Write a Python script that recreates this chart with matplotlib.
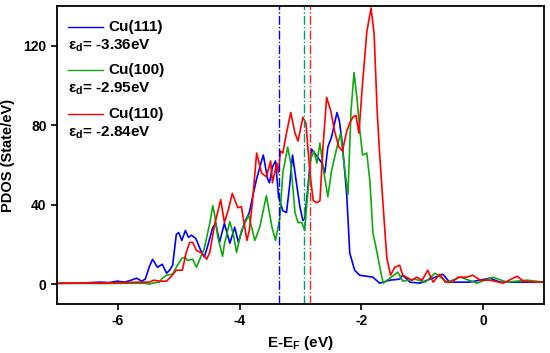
import matplotlib
matplotlib.use('Agg')
import matplotlib.pyplot as plt

plt.rcParams['font.family'] = ['Liberation Sans', 'DejaVu Sans']
plt.rcParams['font.weight'] = 'bold'
plt.rcParams['axes.unicode_minus'] = False
plt.rcParams['mathtext.fontset'] = 'custom'
plt.rcParams['mathtext.rm'] = 'Liberation Sans:bold'
plt.rcParams['mathtext.it'] = 'Liberation Sans:bold'
plt.rcParams['mathtext.bf'] = 'Liberation Sans:bold'

# PDOS of Cu d-band
e_111 = [-7.0, -6.63, -6.30, -6.14, -6.01, -5.89, -5.78, -5.69, -5.61, -5.55, -5.48, -5.43,
         -5.35, -5.27, -5.20, -5.15, -5.10, -5.04, -5.00, -4.95, -4.89, -4.84, -4.79, -4.72,
         -4.62, -4.58, -4.53, -4.44, -4.39, -4.33, -4.25, -4.16, -4.08, -4.02, -3.92, -3.84,
         -3.80, -3.72, -3.64, -3.61, -3.54, -3.51, -3.46, -3.41, -3.36, -3.29, -3.23, -3.18,
         -3.13, -3.08, -3.01, -2.96, -2.93, -2.88, -2.82, -2.77, -2.72, -2.65, -2.60, -2.55,
         -2.49, -2.40, -2.36, -2.31, -2.24, -2.19, -2.11, -2.03, -1.81, -1.70, -1.53, -1.37,
         -1.32, -1.20, -1.04, -0.66, -0.55, -0.22, 0.11, 0.28, 1.0]
d_111 = [0.3, 0.5, 1.0, 0.8, 1.5, 1.0, 2.0, 3.0, 1.5, 2.5, 9, 12.5,
         8.5, 10, 5.5, 7, 9.5, 25, 26, 22, 27, 23.6, 24.6, 23,
         15.6, 13.6, 18.6, 28.6, 30.6, 21, 30.6, 20.6, 28.6, 21, 31, 36,
         42, 53, 62, 65, 53, 51, 59, 62, 44, 37, 36, 49,
         65, 54, 39, 32, 33, 48, 68, 66, 64, 61, 56, 69,
         74, 86.4, 82, 70, 45, 15.6, 7, 4.5, 3.5, 0.5, 2, 2.5,
         4.5, 1, 0.5, 5, 1, 1, 3, 1, 1]

e_100 = [-7.0, -6.30, -5.58, -5.48, -5.43, -5.32, -5.27, -5.20, -5.10, -5.04, -4.95, -4.90,
         -4.86, -4.77, -4.71, -4.66, -4.58, -4.49, -4.44, -4.41, -4.36, -4.28, -4.25, -4.16,
         -4.10, -4.05, -3.97, -3.85, -3.75, -3.67, -3.56, -3.47, -3.41, -3.34, -3.29, -3.21,
         -3.16, -3.09, -3.04, -2.98, -2.93, -2.90, -2.83, -2.78, -2.73, -2.68, -2.62, -2.55,
         -2.49, -2.40, -2.34, -2.29, -2.22, -2.17, -2.12, -2.07, -2.03, -1.98, -1.91, -1.86,
         -1.81, -1.74, -1.68, -1.64, -1.53, -1.40, -1.32, -1.12, -0.95, -0.79, -0.59, -0.37,
         -0.10, 0.16, 0.39, 0.72, 1.0]
d_100 = [0.5, 0.3, 0.5, 0, 0.5, 1, 3, 4.5, 5, 8.5, 13, 13.6,
         12, 12.5, 8.5, 12, 18, 30.6, 39.5, 35, 24, 14, 20, 31.5,
         24.6, 16, 27, 34.7, 22, 28.5, 44.5, 29, 22, 33, 56, 69,
         61, 36, 31, 31, 27, 39, 63, 67, 61, 71, 57, 44,
         57, 69, 76, 62, 45, 87, 106.5, 93, 79, 65, 66, 52,
         26, 15.6, 6, 0.5, 3, 6, 1.5, 2.5, 1, 5.5, 1, 3.5,
         0.5, 3.5, 1, 2, 1]

e_110 = [-7.0, -6.30, -5.64, -5.48, -5.41, -5.32, -5.20, -5.12, -5.04, -4.94, -4.88, -4.82,
         -4.77, -4.71, -4.62, -4.54, -4.49, -4.41, -4.31, -4.25, -4.18, -4.12, -4.03, -3.97,
         -3.88, -3.84, -3.79, -3.72, -3.64, -3.56, -3.49, -3.46, -3.39, -3.36, -3.33, -3.29,
         -3.23, -3.16, -3.09, -3.04, -2.96, -2.91, -2.88, -2.83, -2.79, -2.73, -2.68, -2.63,
         -2.57, -2.50, -2.44, -2.37, -2.31, -2.24, -2.19, -2.14, -2.09, -2.04, -1.98, -1.91,
         -1.84, -1.79, -1.74, -1.70, -1.63, -1.58, -1.52, -1.45, -1.37, -1.32, -1.17, -1.09,
         -1.00, -0.91, -0.82, -0.71, -0.62, -0.51, -0.41, -0.27, -0.17, -0.05, 0.11, 0.33,
         0.56, 0.66, 0.89, 1.0]
d_110 = [0.5, 0.5, 1, 1, 2, 1.5, 1.5, 4, 7, 7, 15.6, 21,
         21, 17, 15.6, 12.5, 16, 30, 42.5, 31, 38, 45.7, 38.5, 39,
         22, 27, 41, 66, 56, 54, 62, 51, 61, 56, 67, 66,
         76, 86.4, 76, 72, 84, 81, 69, 52, 42, 41, 42, 69,
         94, 87, 77, 69, 67, 77, 81, 84, 85, 76, 101, 127,
         139, 126, 87, 66, 34, 13, 4.5, 8.5, 9.5, 4.5, 2, 3.5,
         2, 7, 1, 5, 1, 1, 3.5, 3.5, 4.5, 2, 2, 0.5,
         4, 1.5, 1, 1]

labels = ['Cu(111)', 'Cu(100)', 'Cu(110)']
eps_d = [-3.36, -2.95, -2.84]
colors = ['#0000ff', '#10a810', '#ff0000']
vcolors = ['#0000ff', '#00a060', '#ff2020']

fig = plt.figure(figsize=(5.5, 3.53), dpi=100)
ax = fig.add_axes([0.1036, 0.1388, 0.8854, 0.8442])

for e, d, c in zip([e_111, e_100, e_110], [d_111, d_100, d_110], colors):
    ax.plot(e, d, color=c, lw=1.2)

for x, c in zip(eps_d, vcolors):
    ax.axvline(x, color=c, lw=1.0, ls='-.')

# legend built by hand
yl = [0.93, 0.785, 0.638]
for i in range(3):
    ax.plot([0.0226, 0.0945], [yl[i], yl[i]], color=colors[i], lw=1.0, transform=ax.transAxes)
    ax.text(0.105, yl[i], labels[i], transform=ax.transAxes, fontsize=11,
            fontweight='bold', va='center', ha='left')
    ax.text(0.0226, yl[i] - 0.064, r'ε$_{\rm d}$= %.2feV' % eps_d[i], transform=ax.transAxes,
            fontsize=11, fontweight='bold', va='center', ha='left')

ax.set_xlim(-7, 1)
ax.set_ylim(-10, 140)
ax.set_xticks([-6, -4, -2, 0])
ax.set_yticks([0, 40, 80, 120])
ax.tick_params(direction='out', length=4, width=1.2, labelsize=10, top=False, right=False)
for lab in ax.get_xticklabels() + ax.get_yticklabels():
    lab.set_fontweight('bold')
for s in ax.spines.values():
    s.set_linewidth(1.3)

ax.set_xlabel(r'E-E$_{\rm F}$ (eV)', fontsize=11, fontweight='bold', labelpad=4)
ax.set_ylabel('PDOS (State/eV)', fontsize=10.5, fontweight='bold', labelpad=6)

fig.savefig('out.png', dpi=100)
